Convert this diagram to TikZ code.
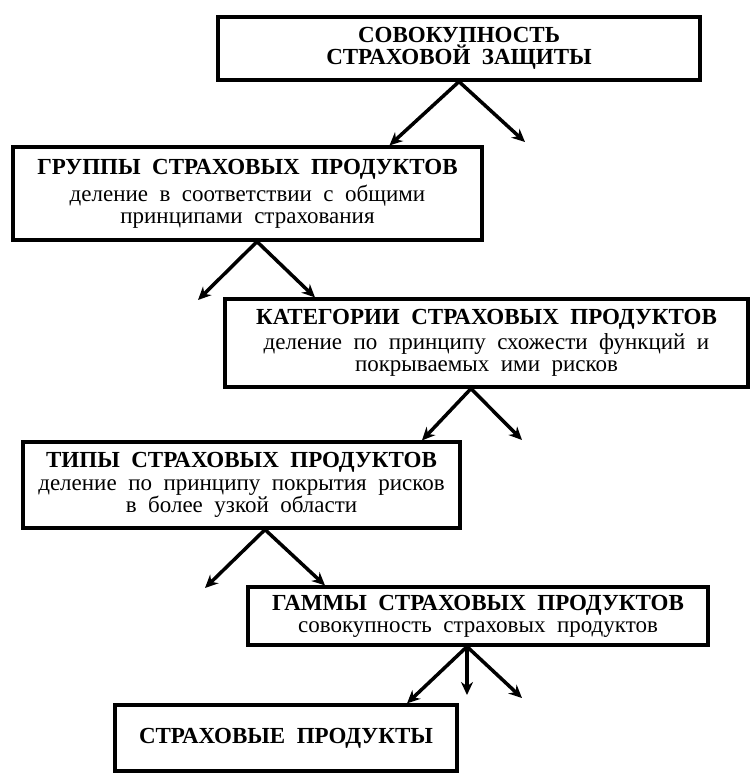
\documentclass[tikz,border=0pt]{standalone}
\usepackage{fontspec}
\setmainfont{Liberation Serif}
\usetikzlibrary{arrows.meta}
\newcommand{\shir}{\spaceskip 0.5em\relax}
\tikzset{
  blok/.style={draw, line width=3.2pt, inner sep=0pt, align=center,
    font=\fontsize{23}{25}\selectfont\shir},
  strelka/.style={line width=3.5pt, -{Stealth[length=13pt,width=12pt]}}
}
\newcommand{\zag}[1]{\textbf{#1}}

\begin{document}
\begin{tikzpicture}[x=1pt,y=-1pt]
		\useasboundingbox (0,0) rectangle (750,774);

		\node[blok, minimum width=482, minimum height=63] (sov) at (459,48.5)
			{\zag{СОВОКУПНОСТЬ}\\[-3pt]\zag{СТРАХОВОЙ ЗАЩИТЫ}};
		\node[blok, minimum width=469, minimum height=93] (grp) at (247.5,193.5)
			{\zag{ГРУППЫ СТРАХОВЫХ ПРОДУКТОВ}\\[2pt]деление в соответствии с общими\\[-3pt]принципами страхования};
		\node[blok, minimum width=523, minimum height=88] (cat) at (486.5,343)
			{\zag{КАТЕГОРИИ СТРАХОВЫХ ПРОДУКТОВ}\\деление по принципу схожести функций и\\[-3pt]покрываемых ими рисков};
		\node[blok, minimum width=437, minimum height=86] (typ) at (241.5,485)
			{\zag{ТИПЫ СТРАХОВЫХ ПРОДУКТОВ}\\[-2pt]деление по принципу покрытия рисков\\[-3pt]в более узкой области};
		\node[blok, minimum width=460, minimum height=58] (gam) at (478,616)
			{\zag{ГАММЫ СТРАХОВЫХ ПРОДУКТОВ}\\[-3pt]совокупность страховых продуктов};
		\node[blok, minimum width=342, minimum height=66] (prod) at (286,738)
			{\zag{СТРАХОВЫЕ ПРОДУКТЫ}};

		% free ends
		\coordinate (sovR) at (525,142);
		\coordinate (grpL) at (198,300);
		\coordinate (catR) at (522,440);
		\coordinate (typL) at (205,588);
		\coordinate (gamM) at (467,695);
		\coordinate (gamR) at (522,698);

		\draw[strelka] (sov.south) -- ([xshift=142]grp.north);
		\draw[strelka] (sov.south) -- (sovR);

		\draw[strelka] ([xshift=9.5]grp.south) -- (grpL);
		\draw[strelka] ([xshift=9.5]grp.south) -- ([xshift=-171.5]cat.north);

		\draw[strelka] ([xshift=-15.5]cat.south) -- ([xshift=180.5]typ.north);
		\draw[strelka] ([xshift=-15.5]cat.south) -- (catR);

		\draw[strelka] ([xshift=23.5]typ.south) -- (typL);
		\draw[strelka] ([xshift=23.5]typ.south) -- ([xshift=-153]gam.north);

		\draw[strelka] ([xshift=-11]gam.south) -- ([xshift=121]prod.north);
		\draw[strelka] ([xshift=-11]gam.south) -- (gamM);
		\draw[strelka] ([xshift=-11]gam.south) -- (gamR);
	\end{tikzpicture}
\end{document}
